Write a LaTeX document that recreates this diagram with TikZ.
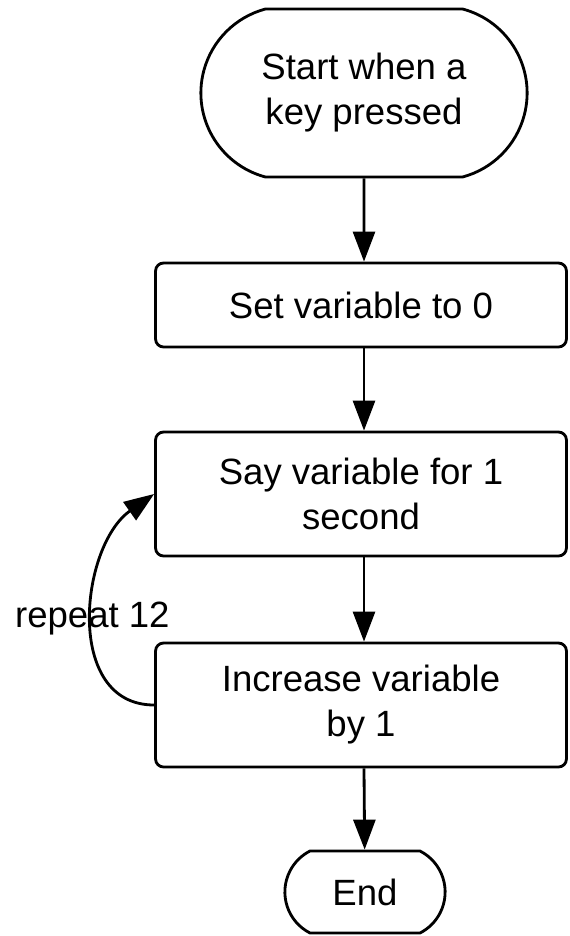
\documentclass[tikz,border=0pt]{standalone}
\usepackage{fontspec}
\setmainfont{Liberation Sans}
\usetikzlibrary{arrows.meta,shapes.misc}
\begin{document}
\begin{tikzpicture}[x=0.02cm, y=0.02cm]
\useasboundingbox (0,0) rectangle (569,-936);

\tikzset{every node/.style={draw, line width=1.6pt, align=center, font=\fontsize{20.8}{25.6}\selectfont}}
\tikzset{stepbox/.style={rectangle, rounded corners=0.16cm, minimum width=8.22cm}}
\tikzset{terminal/.style={rounded rectangle, rounded rectangle arc length=150}}
\node[terminal, minimum width=6.76cm, minimum height=3.36cm] (start) at (364,-93) {Start when a\\key pressed};
\node[stepbox, minimum height=1.68cm] (setvar) at (361,-305) {Set variable to 0};
\node[stepbox, minimum height=2.48cm] (sayvar) at (361,-494) {Say variable for 1\\second};
\node[stepbox, minimum height=2.48cm] (incvar) at (361,-705) {Increase variable\\by 1};
\node[terminal, rounded rectangle arc length=126, minimum width=3.44cm, minimum height=1.64cm] (finish) at (365,-892) {End};

\tikzset{every node/.style={font=\fontsize{20.8}{25.6}\selectfont}}
\tikzset{mystyle/.style={-{Triangle[length=0.6cm,width=0.44cm]}, line width=1.6pt}}
\path (start) edge [mystyle] (start |- setvar.north);
\path (setvar.south -| start) edge [mystyle] (sayvar.north -| start);
\path (sayvar.south -| start) edge [mystyle] (incvar.north -| start);
\path (incvar.south -| start) edge [mystyle] (finish);
\path (incvar.west) edge [mystyle, out=180, in=215, looseness=1.1] node[pos=0.5] (loop) {repeat 12} (sayvar.west);
\end{tikzpicture}
\end{document}
